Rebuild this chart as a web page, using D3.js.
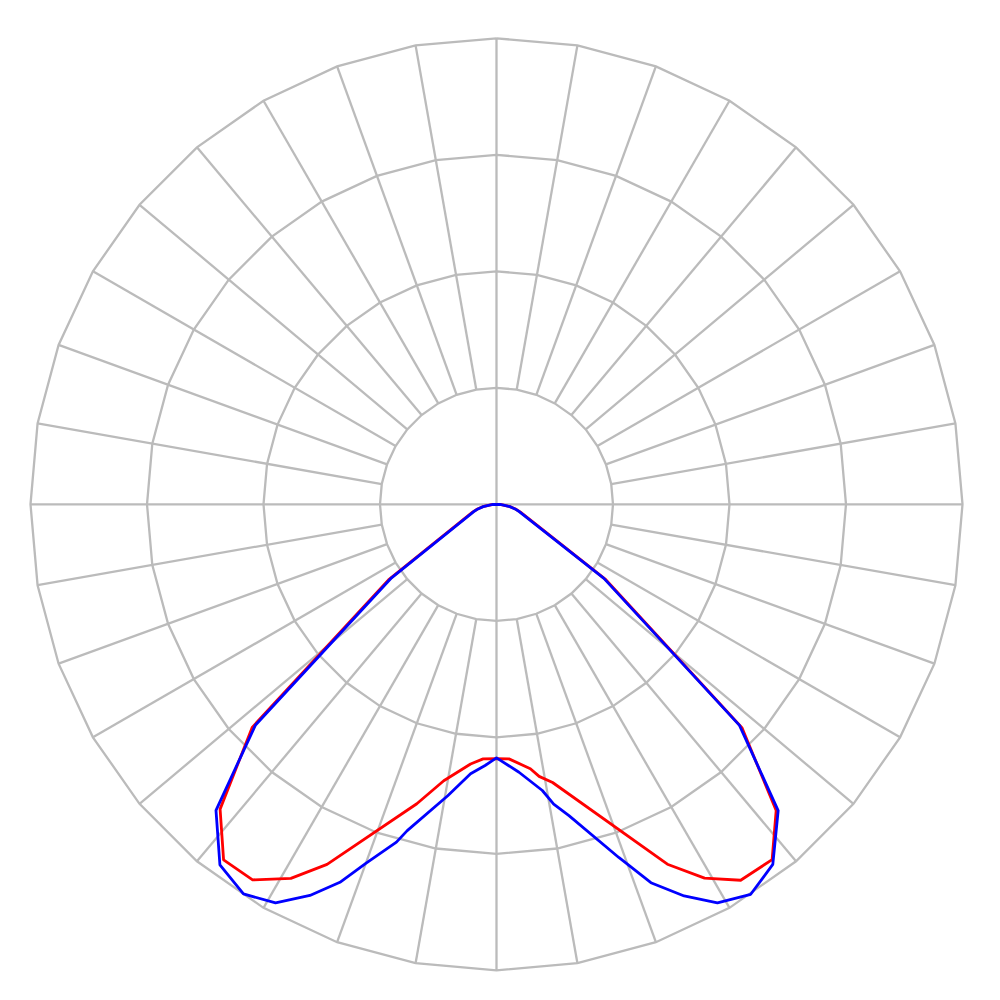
<!DOCTYPE html>
<html lang="en">

<head>
    <meta charset="utf-8">
    <title>Polar intensity diagram</title>
    <script type="text/javascript" src="https://cdn.jsdelivr.net/npm/d3@7"></script>
    <style type="text/css">
    body {
        margin: 0;
        background: white;
    }

    .grid {
        fill: none;
        stroke: #bbbbbb;
        stroke-width: 2.3;
    }

    .curve {
        fill: none;
        stroke-width: 2.8;
        stroke-linejoin: round;
    }
    </style>
</head>

<body>
    <script type="text/javascript">
    //Width and height
    var w = 1000;
    var h = 1000;

    //ring values (relative intensity) and spoke step in degrees
    var ringValues = [0.25, 0.5, 0.75, 1];
    var spokeStep = 10;

    //red curve, gamma angles (deg from nadir) and relative values
    var redLeftAngles = [0, 3, 5.7, 10.8, 14.9, 25.2, 28.8, 33, 37.5, 42.2, 47.6, 55, 72, 76, 80, 84, 87, 90];
    var redLeftValues = [0.546, 0.547, 0.56, 0.604, 0.665, 0.854, 0.916, 0.961, 0.962, 0.883, 0.71, 0.283, 0.054, 0.042, 0.03, 0.015, 0.0075, 0];
    var redRightAngles = [0, 2.8, 7.3, 8.9, 11.4, 25.4, 29.1, 33, 37.8, 42.4, 47.7, 55.4, 72, 76, 80, 84, 87, 90];
    var redRightValues = [0.546, 0.547, 0.572, 0.591, 0.609, 0.855, 0.918, 0.962, 0.965, 0.89, 0.712, 0.285, 0.054, 0.042, 0.03, 0.015, 0.0075, 0];

    //blue curve
    var blueLeftAngles = [0, 2.5, 5.5, 9.5, 15.3, 16.5, 20, 22.5, 25.5, 29, 33, 37.5, 42.5, 47.5, 55, 72, 76, 80, 84, 87, 90];
    var blueLeftValues = [0.544, 0.561, 0.581, 0.634, 0.726, 0.756, 0.82, 0.878, 0.93, 0.978, 0.997, 0.975, 0.891, 0.702, 0.275, 0.052, 0.041, 0.029, 0.015, 0.0075, 0];
    var blueRightAngles = [0, 4.8, 9.1, 10.8, 13.1, 19.1, 22.2, 25.6, 29, 33.1, 37.5, 42.6, 47.7, 55.4, 72, 76, 80, 84, 87, 90];
    var blueRightValues = [0.543, 0.577, 0.622, 0.655, 0.686, 0.802, 0.877, 0.932, 0.978, 0.999, 0.974, 0.893, 0.705, 0.28, 0.052, 0.041, 0.029, 0.015, 0.0075, 0];

    var cx = 496.5;
    var cy = 504.3;
    var R = 466;

    var r = d3.scaleLinear()
        .domain([0, 1])
        .range([0, R]);

    var toRad = Math.PI / 180;

    //create SVG
    var svg = d3.select('body')
        .append('svg')
        .attr('width', w)
        .attr('height', h);

    var g = svg.append('g')
        .attr('transform', 'translate(' + cx + ',' + cy + ')');

    //rings drawn as 36-sided polygons
    var ringAngles = d3.range(0, 360 + spokeStep, spokeStep);

    var ringLine = d3.lineRadial()
        .angle(function(d) { return d.a * toRad; })
        .radius(function(d) { return r(d.v); });

    g.selectAll('path.ring')
        .data(ringValues)
        .enter()
        .append('path')
        .attr('class', 'grid ring')
        .attr('d', function(v) {
            return ringLine(ringAngles.map(function(a) { return { a: a, v: v }; }));
        });

    //spokes, main axes go through the centre
    var spokeAngles = d3.range(0, 360, spokeStep);

    g.selectAll('line.spoke')
        .data(spokeAngles)
        .enter()
        .append('line')
        .attr('class', 'grid spoke')
        .attr('x1', function(a) {
            var r0 = a % 90 === 0 ? 0 : r(ringValues[0]);
            return r0 * Math.sin(a * toRad);
        })
        .attr('y1', function(a) {
            var r0 = a % 90 === 0 ? 0 : r(ringValues[0]);
            return -r0 * Math.cos(a * toRad);
        })
        .attr('x2', function(a) { return r(1) * Math.sin(a * toRad); })
        .attr('y2', function(a) { return -r(1) * Math.cos(a * toRad); });

    //curves: left half runs from nadir toward the left, right half toward the right
    var curveLine = d3.lineRadial()
        .angle(function(d) { return d.a; })
        .radius(function(d) { return r(d.v); });

    function buildCurve(leftA, leftV, rightA, rightV) {
        var pts = [];
        for (var i = leftA.length - 1; i >= 0; i--) {
            pts.push({ a: Math.PI + leftA[i] * toRad, v: leftV[i] });
        }
        for (var j = 1; j < rightA.length; j++) {
            pts.push({ a: Math.PI - rightA[j] * toRad, v: rightV[j] });
        }
        return pts;
    }

    var series = [
        { color: '#ff0000', pts: buildCurve(redLeftAngles, redLeftValues, redRightAngles, redRightValues) },
        { color: '#0000ff', pts: buildCurve(blueLeftAngles, blueLeftValues, blueRightAngles, blueRightValues) }
    ];

    g.selectAll('path.curve')
        .data(series)
        .enter()
        .append('path')
        .attr('class', 'curve')
        .attr('stroke', function(d) { return d.color; })
        .attr('d', function(d) { return curveLine(d.pts); });
    </script>
</body>

</html>
